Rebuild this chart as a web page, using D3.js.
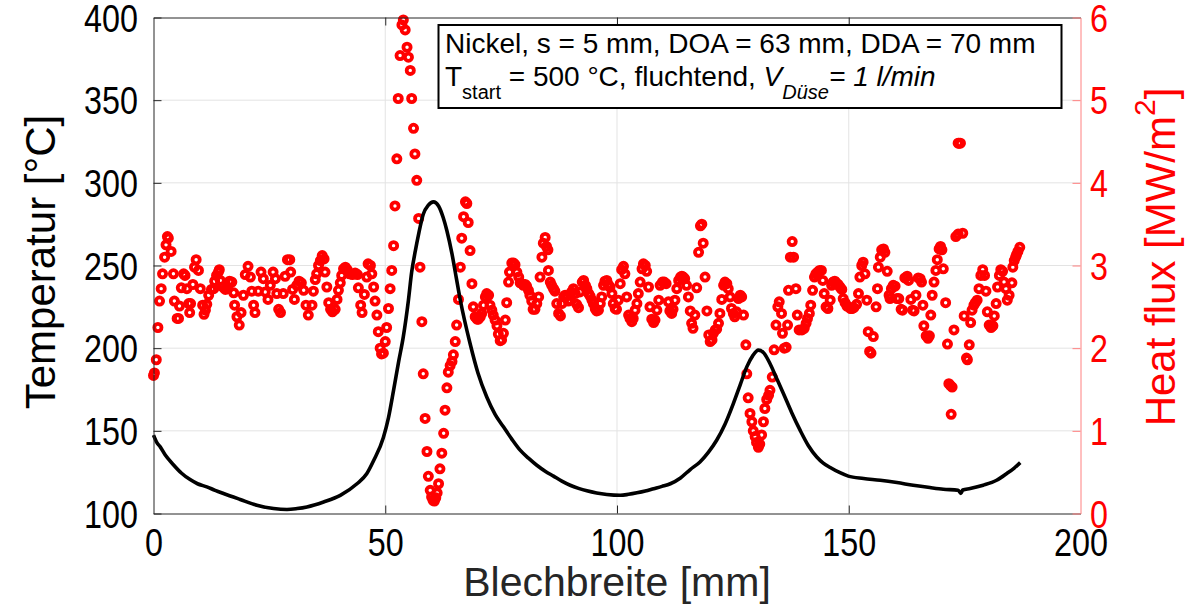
<!DOCTYPE html>
<html><head><meta charset="utf-8">
<script src="https://cdn.jsdelivr.net/npm/d3@7"></script>
<style>body{margin:0;background:#fff}</style>
</head><body>
<svg id="c" width="1201" height="613"></svg>
<script>
// ---------- data ----------
const xTicks = [0, 50, 100, 150, 200];
const tempTicks = [100, 150, 200, 250, 300, 350, 400];
const fluxTicks = [0, 1, 2, 3, 4, 5, 6];
const xLabel = "Blechbreite [mm]";
const yLabelLeft = "Temperatur [°C]";
const legendLine1 = "Nickel, s = 5 mm, DOA = 63 mm, DDA = 70 mm";

// Temperature curve [position mm, temperature °C]
const temperature = [
[0,147.4],[0.7,143],[1.45,140.3],[2.5,135.5],[4.3,129.5],[6,124.5],[7.9,120.5],[9.5,118],[11.5,116.1],[13.3,114],
[15.1,112.1],[18.7,108.5],[22.3,105],[25.9,103],[28.8,102.4],[31,103],[33.1,104],[36.7,107],[40.3,111],[43.9,118],
[46,124],[47.5,132],[49.6,146],[50.7,158],[51.8,174.6],[52.9,192],[53.9,207],[55,229],[55.7,246],[56.5,259],
[57.2,269],[58.2,281],[59.3,286.5],[60.4,288.5],[61.5,286],[62.5,279],[63.3,271],[64.4,257],[65.3,243],[66.2,229],
[68.3,202.8],[70,185],[71.9,170.5],[73.7,160],[75.5,152.4],[77.3,145],[79.1,138.3],[80.9,133.5],[82.7,129.2],[84.5,125.6],
[86.3,122.6],[88.1,119.6],[89.9,117.1],[91.7,115.2],[93.5,113.7],[95.6,112.4],[97.8,111.5],[100.7,111],[102.5,111.6],[104.3,112.5],
[106.1,113.6],[107.9,115],[109.7,116.4],[111.5,118],[113.7,121.5],[115.8,126.6],[117.9,131.2],[119.7,137],[121.5,144.3],[123.3,154],
[125.1,166.5],[126.6,178],[128,188.7],[129.3,195.5],[130.5,198.8],[131.7,197],[133,190.7],[134.4,182],[135.9,172.6],[137.7,161],
[139.5,150.4],[141.3,141],[143.1,134.2],[144.5,130.5],[146,127.8],[148,124.8],[149.9,122.6],[153.2,121.2],[156.8,120.1],[160.4,118.7],
[163.9,117.1],[167.5,115.7],[170.4,114.7],[173.6,114.1],[174.2,112.2],[174.6,114.2],[176.2,115.1],[179,117.1],[181.9,120.1],[184.1,124.2],
[185.7,127.5],[187,130.8]
];

// Heat flux points [position mm, heat flux MW/m²]
const heatFlux = [
[0,1.67],[0.2,1.70],[0.6,1.86],[0.95,2.25],[1.3,2.57],[1.66,2.72],[1.95,2.9],[2.4,3.1],[2.7,3.25],[3.0,3.35],
[3.2,3.33],[3.8,3.17],[4.3,2.9],[4.5,2.57],[5.1,2.36],[5.4,2.36],[5.6,2.51],[6.0,2.73],[6.5,2.9],[6.8,2.88],
[7.2,2.72],[7.6,2.54],[7.8,2.43],[8.0,2.54],[8.5,2.77],[8.85,2.98],[9.2,3.07],[9.7,2.94],[10.1,2.72],[10.6,2.52],
[10.9,2.41],[11.2,2.46],[11.5,2.53],[11.9,2.64],[12.5,2.71],[13.0,2.72],[13.2,2.81],[13.6,2.88],[14.0,2.92],[14.2,2.95],
[14.4,2.82],[15.0,2.74],[15.5,2.71],[16.0,2.72],[16.4,2.81],[16.9,2.8],[17.3,2.67],[17.5,2.52],[18.0,2.38],[18.5,2.28],
[18.9,2.43],[19.4,2.64],[19.8,2.89],[20.4,2.99],[20.9,2.86],[21.2,2.69],[21.6,2.52],[21.9,2.43],[22.6,2.69],[23.2,2.92],
[23.7,2.84],[24.1,2.68],[24.7,2.59],[25.2,2.76],[25.8,2.92],[26.3,2.84],[26.6,2.66],[27.0,2.47],[27.4,2.43],[28.0,2.66],
[28.4,2.87],[28.9,3.07],[29.4,3.07],[29.6,2.92],[30.0,2.71],[30.4,2.59],[30.9,2.76],[31.4,2.81],[31.9,2.79],[32.4,2.7],
[32.9,2.52],[33.4,2.4],[34.2,2.52],[34.5,2.69],[34.9,2.83],[35.2,2.9],[35.6,3.0],[36.0,3.06],[36.4,3.12],[36.8,3.08],
[37.0,2.92],[37.4,2.74],[37.8,2.55],[38.2,2.47],[38.6,2.44],[39.2,2.47],[39.6,2.59],[39.9,2.7],[40.3,2.79],[40.6,2.88],
[41.0,2.96],[41.4,2.98],[41.8,2.95],[42.3,2.9],[42.9,2.89],[43.5,2.91],[44.0,2.89],[44.2,2.73],[44.7,2.52],[45.0,2.43],
[45.5,2.65],[46.0,2.86],[46.3,3.02],[46.8,3.0],[47.1,2.9],[47.5,2.74],[47.8,2.57],[48.2,2.4],[48.5,2.2],[48.9,2.0],
[49.2,1.93],[49.6,1.94],[50.0,2.08],[50.3,2.25],[50.7,2.48],[51.05,2.72],[51.4,2.94],[51.8,3.24],[52.1,3.72],[52.5,4.29],
[52.8,5.02],[53.2,5.54],[53.6,5.91],[53.9,5.97],[54.3,5.85],[54.7,5.64],[55.0,5.52],[55.4,5.36],[55.7,5.02],[56.1,4.66],
[56.4,4.35],[56.8,4.03],[57.2,3.57],[57.5,2.98],[57.9,2.32],[58.2,1.69],[58.6,1.15],[59.0,0.75],[59.3,0.45],[59.7,0.28],
[60.0,0.2],[60.3,0.16],[60.6,0.15],[60.9,0.19],[61.2,0.25],[61.5,0.36],[61.8,0.54],[62.2,0.73],[62.6,0.97],[62.9,1.25],
[63.3,1.52],[63.6,1.71],[64.0,1.79],[64.4,1.84],[64.7,1.92],[65.1,2.08],[65.4,2.28],[65.8,2.59],[66.2,2.98],[66.5,3.33],
[66.9,3.59],[67.3,3.77],[67.6,3.75],[67.9,3.52],[68.3,3.18],[68.7,2.78],[69.0,2.5],[69.4,2.38],[69.8,2.35],[70.1,2.35],
[70.5,2.38],[70.8,2.42],[71.2,2.52],[71.6,2.62],[71.9,2.66],[72.3,2.64],[72.6,2.52],[73.0,2.46],[73.3,2.4],[73.7,2.34],
[74.1,2.27],[74.4,2.17],[74.8,2.09],[75.1,2.1],[75.5,2.18],[75.9,2.34],[76.2,2.55],[76.6,2.8],[76.8,2.92],[77.3,3.03],
[77.7,3.03],[78.0,3.01],[78.4,2.92],[78.8,2.86],[79.1,2.79],[79.5,2.78],[79.8,2.76],[80.2,2.77],[80.5,2.75],[80.9,2.7],
[81.2,2.64],[81.6,2.57],[81.9,2.47],[82.3,2.47],[82.7,2.54],[83.1,2.62],[83.4,2.86],[83.8,3.1],[84.1,3.27],[84.5,3.34],
[84.8,3.23],[85.1,3.19],[85.2,2.94],[85.6,2.8],[85.9,2.76],[86.3,2.72],[86.6,2.69],[87.0,2.54],[87.4,2.42],[87.8,2.39],
[88.1,2.54],[88.5,2.62],[88.8,2.64],[89.2,2.63],[89.5,2.57],[89.9,2.58],[90.2,2.68],[90.6,2.72],[91.0,2.66],[91.3,2.53],
[91.7,2.49],[92.0,2.68],[92.5,2.8],[92.8,2.82],[93.2,2.76],[93.5,2.72],[93.9,2.66],[94.2,2.63],[94.6,2.58],[94.9,2.54],
[95.3,2.48],[95.6,2.45],[96.0,2.46],[96.4,2.54],[96.7,2.62],[97.1,2.76],[97.4,2.81],[97.8,2.82],[98.1,2.77],[98.5,2.74],
[98.9,2.66],[99.2,2.54],[99.6,2.48],[99.9,2.47],[100.3,2.58],[100.7,2.78],[101.0,2.95],[101.4,2.99],[101.7,2.9],[102.1,2.62],
[102.5,2.4],[102.8,2.36],[103.2,2.32],[103.5,2.36],[103.9,2.46],[104.3,2.54],[104.6,2.66],[105.0,2.8],[105.4,2.96],[105.7,3.02],
[106.1,3.0],[106.4,2.93],[106.8,2.74],[107.1,2.5],[107.5,2.35],[107.9,2.31],[108.2,2.34],[108.6,2.46],[109.0,2.58],[109.3,2.76],
[109.8,2.8],[110.2,2.8],[110.6,2.78],[111.1,2.56],[111.4,2.45],[111.8,2.42],[112.1,2.47],[112.5,2.58],[112.9,2.72],[113.3,2.82],
[113.7,2.86],[114.0,2.87],[114.3,2.86],[114.6,2.84],[115.0,2.76],[115.4,2.62],[115.8,2.45],[116.1,2.3],[116.4,2.24],[116.8,2.4],
[117.2,2.73],[117.6,3.16],[118.0,3.48],[118.3,3.5],[118.6,3.27],[119.0,2.86],[119.4,2.45],[119.8,2.16],[120.1,2.08],[120.5,2.1],
[120.8,2.18],[121.2,2.22],[121.5,2.23],[121.9,2.3],[122.2,2.42],[122.6,2.59],[123.0,2.76],[123.3,2.8],[123.7,2.78],[124.0,2.72],
[124.4,2.62],[124.7,2.48],[125.1,2.42],[125.4,2.38],[125.8,2.44],[126.2,2.6],[126.6,2.64],[126.9,2.62],[127.3,2.4],[127.8,2.04],
[128.0,1.69],[128.3,1.4],[128.7,1.21],[129.1,1.11],[129.4,1.0],[129.8,0.93],[130.1,0.86],[130.5,0.8],[130.8,0.84],[131.2,0.95],
[131.6,1.11],[131.9,1.27],[132.3,1.38],[132.7,1.43],[133.0,1.49],[133.5,1.65],[133.9,1.98],[134.3,2.28],[134.7,2.5],[135.0,2.56],
[135.5,2.42],[135.7,2.18],[136.1,2.0],[136.5,2.01],[136.8,2.28],[137.0,2.7],[137.4,3.1],[137.8,3.29],[138.1,3.1],[138.6,2.72],
[138.9,2.4],[139.3,2.22],[139.9,2.22],[140.4,2.24],[140.8,2.3],[141.1,2.36],[141.5,2.42],[141.8,2.52],[142.2,2.7],[142.6,2.86],
[142.9,2.9],[143.3,2.92],[143.7,2.94],[144.1,2.94],[144.4,2.82],[144.7,2.66],[145.1,2.5],[145.5,2.48],[146.0,2.58],[146.3,2.76],
[146.6,2.8],[147.0,2.81],[147.3,2.79],[147.7,2.77],[148.1,2.74],[148.5,2.71],[148.8,2.6],[149.2,2.55],[149.6,2.51],[150.0,2.5],
[150.4,2.48],[150.7,2.48],[151.1,2.49],[151.7,2.53],[152.1,2.66],[152.4,2.86],[152.8,3.0],[153.1,3.04],[153.5,2.9],[153.9,2.58],
[154.2,2.2],[154.5,1.96],[154.8,1.94],[155.3,2.14],[155.9,2.5],[156.2,2.72],[156.4,2.98],[156.8,3.1],[157.1,3.19],[157.5,3.2],
[157.8,3.16],[158.3,2.93],[158.7,2.64],[158.9,2.6],[159.2,2.72],[159.6,2.76],[160.0,2.75],[160.4,2.6],[160.8,2.6],[161.3,2.47],
[161.6,2.46],[162.1,2.85],[162.6,2.87],[162.9,2.82],[163.4,2.59],[163.8,2.46],[164.1,2.45],[164.5,2.64],[165.0,2.85],[165.4,2.84],
[165.7,2.8],[166.0,2.52],[166.2,2.27],[166.7,2.15],[167.1,2.12],[167.4,2.15],[167.7,2.4],[168.0,2.64],[168.4,2.8],[168.8,2.94],
[169.1,3.07],[169.5,3.2],[169.8,3.23],[170.1,3.19],[170.4,2.96],[170.9,2.55],[171.3,2.05],[171.6,1.57],[171.9,1.55],[172.1,1.2],
[172.3,1.53],[172.7,2.22],[173.1,3.35],[173.6,3.38],[174.6,3.39],[173.6,4.48],[173.8,4.48],[174.1,4.48],[174.9,2.39],[175.4,1.88],
[175.6,1.86],[176.0,2.04],[176.3,2.31],[176.6,2.46],[177.0,2.52],[177.3,2.55],[177.7,2.58],[178.1,2.72],[178.5,2.88],[178.9,2.95],
[179.3,2.88],[179.6,2.69],[179.9,2.44],[180.3,2.28],[180.7,2.25],[181.1,2.27],[181.4,2.39],[181.8,2.54],[182.1,2.74],[182.5,2.88],
[182.8,2.95],[183.2,2.93],[183.5,2.8],[183.9,2.72],[184.2,2.58],[184.6,2.64],[185.2,2.79],[185.4,2.98],[185.7,3.06],[186.0,3.1],
[186.2,3.13],[186.5,3.17],[186.9,3.22]
];

// ---------- drawing ----------
const FONT = '"Liberation Sans", Arial, Helvetica, sans-serif';
const AX = '#262626';
const svg = d3.select('#c').style('font-family', FONT);

const L = 153.5, R = 1080.5, T = 17.5, B = 513.5;
const x = d3.scaleLinear().domain([0, 200]).range([L, R]);
const yL = d3.scaleLinear().domain([100, 400]).range([B, T]);
const yR = d3.scaleLinear().domain([0, 6]).range([B, T]);

// grid
const grid = svg.append('g').attr('stroke', '#e3e3e3').attr('stroke-width', 1);
grid.selectAll('.gx').data(xTicks.slice(1, -1)).join('line')
  .attr('x1', d => x(d)).attr('x2', d => x(d)).attr('y1', T).attr('y2', B);
grid.selectAll('.gy').data(tempTicks.slice(1, -1)).join('line')
  .attr('y1', d => yL(d)).attr('y2', d => yL(d)).attr('x1', L).attr('x2', R);

// heat flux scatter
svg.append('g').selectAll('circle').data(heatFlux).join('circle')
  .attr('cx', d => x(d[0])).attr('cy', d => yR(d[1])).attr('r', 3.6)
  .attr('fill', 'none').attr('stroke', '#ff0000').attr('stroke-width', 3.8);

// temperature line
svg.append('path').datum(temperature)
  .attr('d', d3.line().x(d => x(d[0])).y(d => yL(d[1])).curve(d3.curveMonotoneX))
  .attr('fill', 'none').attr('stroke', '#000').attr('stroke-width', 3.6)
  .attr('stroke-linejoin', 'round');

const SX = 0.85;
// left axis
const gl = svg.append('g').attr('transform', `translate(${L},0)`)
  .call(d3.axisLeft(yL).tickValues(tempTicks).tickFormat(d3.format('d')).tickSizeInner(-8).tickSizeOuter(0));
gl.attr('color', AX);
gl.selectAll('text').attr('font-size', 38).attr('font-family', FONT).attr('fill', '#000')
  .attr('x', -15.5 / SX).attr('dy', '0.36em').attr('transform', `scale(${SX},1)`);

// bottom axis
const gb = svg.append('g').attr('transform', `translate(0,${B})`)
  .call(d3.axisBottom(x).tickValues(xTicks).tickFormat(d3.format('d')).tickSizeInner(-8).tickSizeOuter(0));
gb.attr('color', AX);
gb.selectAll('text').attr('font-size', 38).attr('font-family', FONT).attr('fill', '#000')
  .attr('y', 42.5).attr('dy', 0).attr('transform', `scale(${SX},1)`);
gb.selectAll('.tick').filter(d => d === 0 || d === 200).select('line').remove();

// top border with ticks
const gt = svg.append('g').attr('transform', `translate(0,${T})`)
  .call(d3.axisTop(x).tickValues(xTicks.slice(1, -1)).tickSizeInner(-8).tickSizeOuter(0).tickFormat(''));
gt.attr('color', AX);

// right axis
const gr = svg.append('g').attr('transform', `translate(${R},0)`)
  .call(d3.axisRight(yR).tickValues(fluxTicks).tickFormat(d3.format('d')).tickSizeInner(-8).tickSizeOuter(0));
gr.attr('color', '#ff0000');
gr.select('.domain').attr('stroke', '#ff8080');
gr.selectAll('.tick line').attr('stroke', '#ff8080');
gr.selectAll('text').attr('font-size', 38).attr('font-family', FONT).attr('fill', '#ff0000')
  .attr('x', 9.5 / SX).attr('dy', '0.36em').attr('transform', `scale(${SX},1)`);

// axis titles
svg.append('text').attr('x', (L + R) / 2).attr('y', 596).attr('text-anchor', 'middle')
  .attr('font-size', 41).attr('fill', '#262626').text(xLabel);
svg.append('text').attr('transform', 'translate(55,262) rotate(-90)').attr('text-anchor', 'middle')
  .attr('font-size', 42).attr('fill', '#000').text(yLabelLeft);
const rt = svg.append('text').attr('transform', 'translate(1175,257) rotate(-90)').attr('text-anchor', 'middle')
  .attr('font-size', 42).attr('fill', '#ff0000');
rt.append('tspan').text('Heat flux [MW/m');
rt.append('tspan').attr('font-size', 30).attr('dy', -20).text('2');
rt.append('tspan').attr('dy', 20).text(']');

// legend box
svg.append('rect').attr('x', 438.5).attr('y', 25).attr('width', 623).attr('height', 83)
  .attr('fill', '#fff').attr('stroke', '#000').attr('stroke-width', 2);
svg.append('text').attr('x', 445).attr('y', 53).attr('font-size', 28).attr('fill', '#000').text(legendLine1);
const l2 = svg.append('text').attr('x', 445).attr('y', 86).attr('font-size', 28).attr('fill', '#000');
l2.append('tspan').text('T');
l2.append('tspan').attr('font-size', 20).attr('dy', 13).text('start');
l2.append('tspan').attr('dy', -13).text(' = 500 °C, fluchtend, ');
l2.append('tspan').attr('font-style', 'italic').text('V');
l2.append('tspan').attr('font-style', 'italic').attr('font-size', 20).attr('dy', 13).text('Düse');
l2.append('tspan').attr('font-style', 'italic').attr('dy', -13).text('= 1 l/min');
</script>
</body></html>
